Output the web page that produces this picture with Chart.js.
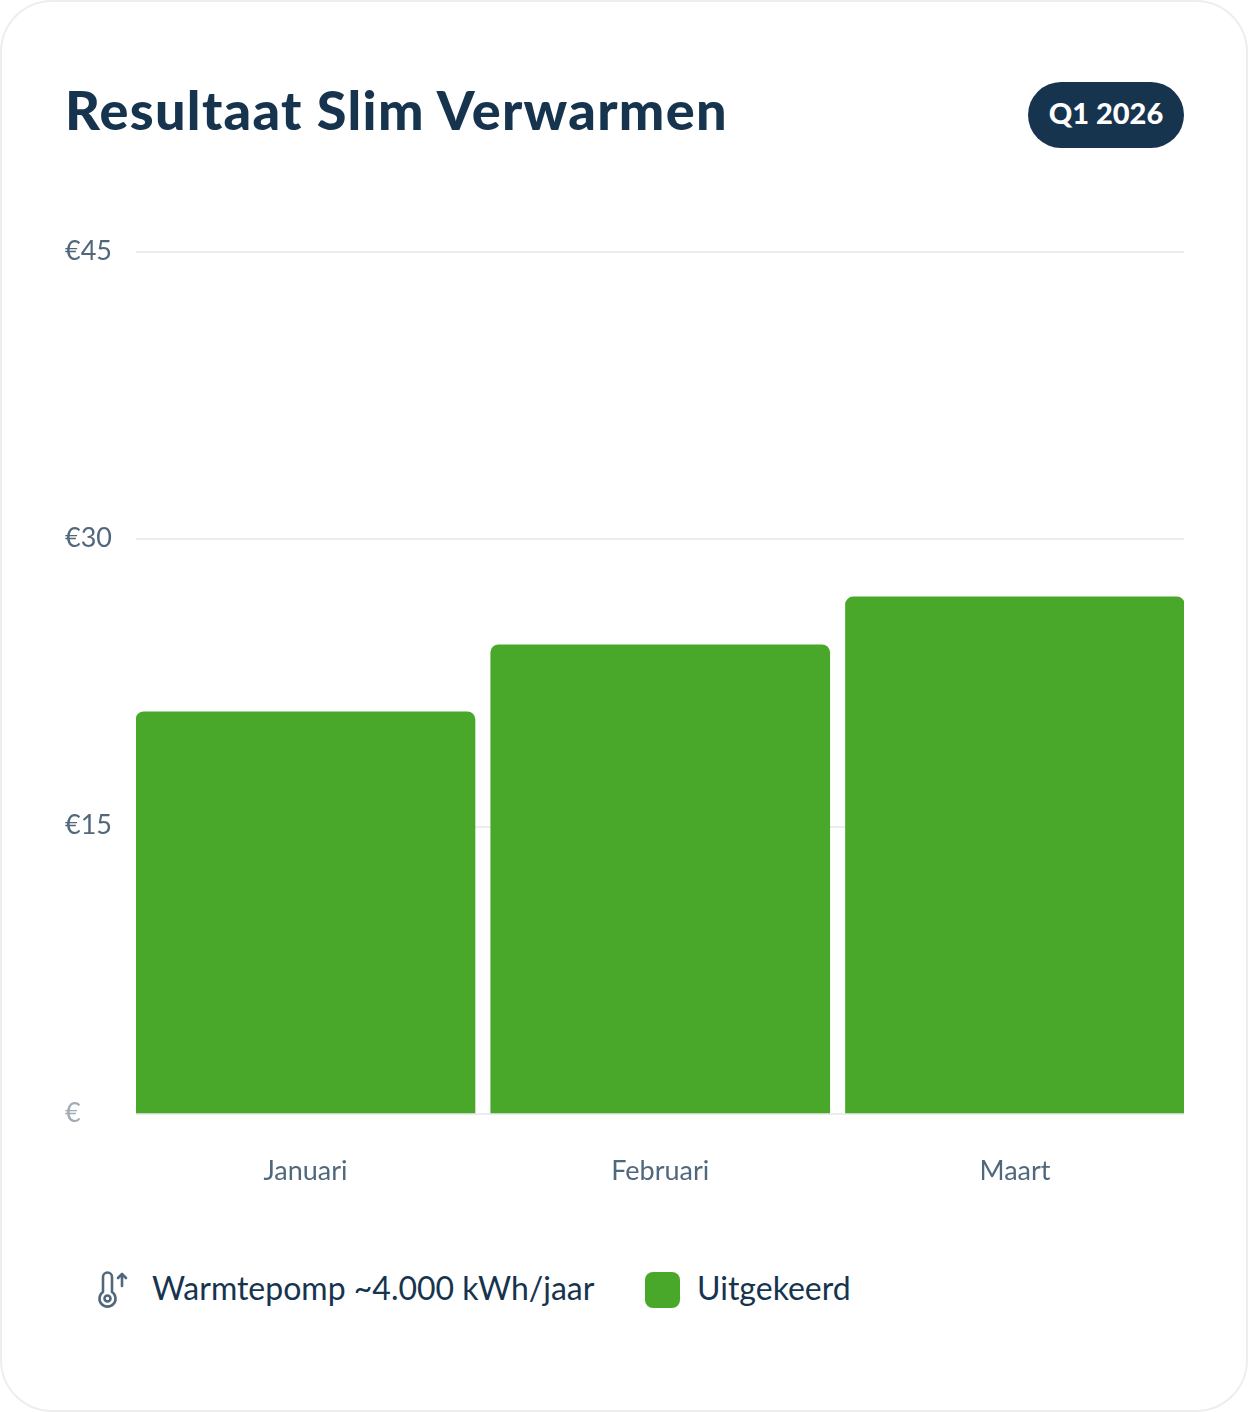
<!DOCTYPE html>
<html>

<head>
  <meta charset="utf-8">
  <title>Resultaat Slim Verwarmen</title>
  <script src="https://cdn.jsdelivr.net/npm/chart.js@4/dist/chart.umd.js"></script>
  <style>
    html, body { margin: 0; padding: 0; background: #fff; }
    body { width: 1248px; height: 1412px; position: relative; overflow: hidden; font-family: Lato, sans-serif; color: #17344f; }
    .card { position: absolute; left: 0; top: 0; width: 1248px; height: 1412px; box-sizing: border-box; border: 2px solid #eeeeee; border-radius: 52px; }
    h1 { position: absolute; left: 65px; top: 78px; margin: 0; font-size: 54px; line-height: 64px; font-weight: 900; letter-spacing: 1.3px; white-space: nowrap; }
    .badge { position: absolute; left: 1028px; top: 82px; width: 156px; height: 66px; border-radius: 33px; background: #17344f; color: #fff; font-size: 29px; font-weight: 900; line-height: 62px; text-align: center; }
    canvas { position: absolute; left: 0; top: 236px; }
    .legend span { position: absolute; top: 1267px; font-size: 32px; line-height: 42px; white-space: nowrap; }
    .legend svg { position: absolute; left: 97px; top: 1270px; }
    .swatch { position: absolute; left: 645px; top: 1272px; width: 35px; height: 36px; border-radius: 8px; background: #49a82a; }
  </style>
</head>

<body>
  <div class="card"></div>
  <h1>Resultaat Slim Verwarmen</h1>
  <div class="badge">Q1 2026</div>
  <canvas id="chart" width="1184" height="964"></canvas>
  <div class="legend">
    <svg width="34" height="38" viewBox="0 0 34 38" fill="none" stroke="#51687c" stroke-width="2.6" stroke-linecap="round" stroke-linejoin="round">
      <path d="M6 22V7a4.5 4.5 0 0 1 9 0v15a8 8 0 1 1-9 0z" />
      <circle cx="10.5" cy="28.5" r="3" />
      <path d="M25 16V4M21 8l4-4 4 4" />
    </svg>
    <span id="noteLabel" style="left:152px"></span>
    <div class="swatch"></div>
    <span id="seriesLabel" style="left:697px"></span>
  </div>

  <script>
    const months = ['Januari', 'Februari', 'Maart'];
    const paidOut = [21, 24.5, 27];
    const yTicks = [0, 15, 30, 45];
    const yTickLabels = ['€', '€15', '€30', '€45'];
    const seriesName = 'Uitgekeerd';
    const noteName = 'Warmtepomp ~4.000 kWh/jaar';

    document.getElementById('noteLabel').textContent = noteName;
    document.getElementById('seriesLabel').textContent = seriesName;

    const ctx = document.getElementById('chart').getContext('2d');

    new Chart(ctx, {
      type: 'bar',
      data: {
        datasets: [{
          label: seriesName,
          data: months.map((m, i) => ({ x: i, y: paidOut[i] })),
          backgroundColor: '#49a82a',
          borderWidth: 0,
          barThickness: 339,
          borderRadius: { topLeft: 8, topRight: 8, bottomLeft: 0, bottomRight: 0 },
          borderSkipped: false,
        }],
      },
      options: {
        responsive: false,
        animation: false,
        layout: { padding: { left: 65, top: 8, right: 0, bottom: 0 } },
        plugins: { legend: { display: false }, tooltip: { enabled: false } },
        scales: {
          x: {
            type: 'linear',
            offset: false,
            min: -0.4778,
            max: 2.4764,
            grid: { display: false },
            border: { display: false },
            afterBuildTicks: (axis) => { axis.ticks = months.map((m, i) => ({ value: i })); },
            afterFit: (axis) => { axis.height = 86; },
            ticks: {
              autoSkip: false,
              maxRotation: 0,
              padding: 33,
              color: '#51687c',
              font: { family: 'Lato', size: 27 },
              callback: (value) => months[value],
            },
          },
          y: {
            min: 0,
            max: 45,
            grid: { color: '#ecedee', lineWidth: 2, drawTicks: false },
            border: { display: false },
            afterBuildTicks: (axis) => { axis.ticks = yTicks.map((v) => ({ value: v })); },
            afterFit: (axis) => { axis.width = 71; },
            ticks: {
              crossAlign: 'far',
              padding: 0,
              z: 1,
              labelOffset: -1,
              color: (c) => (c.index === 0 ? '#a0abb5' : '#51687c'),
              font: { family: 'Lato', size: 27 },
              callback: (value) => yTickLabels[yTicks.indexOf(value)],
            },
          },
        },
      },
    });
  </script>
</body>

</html>
